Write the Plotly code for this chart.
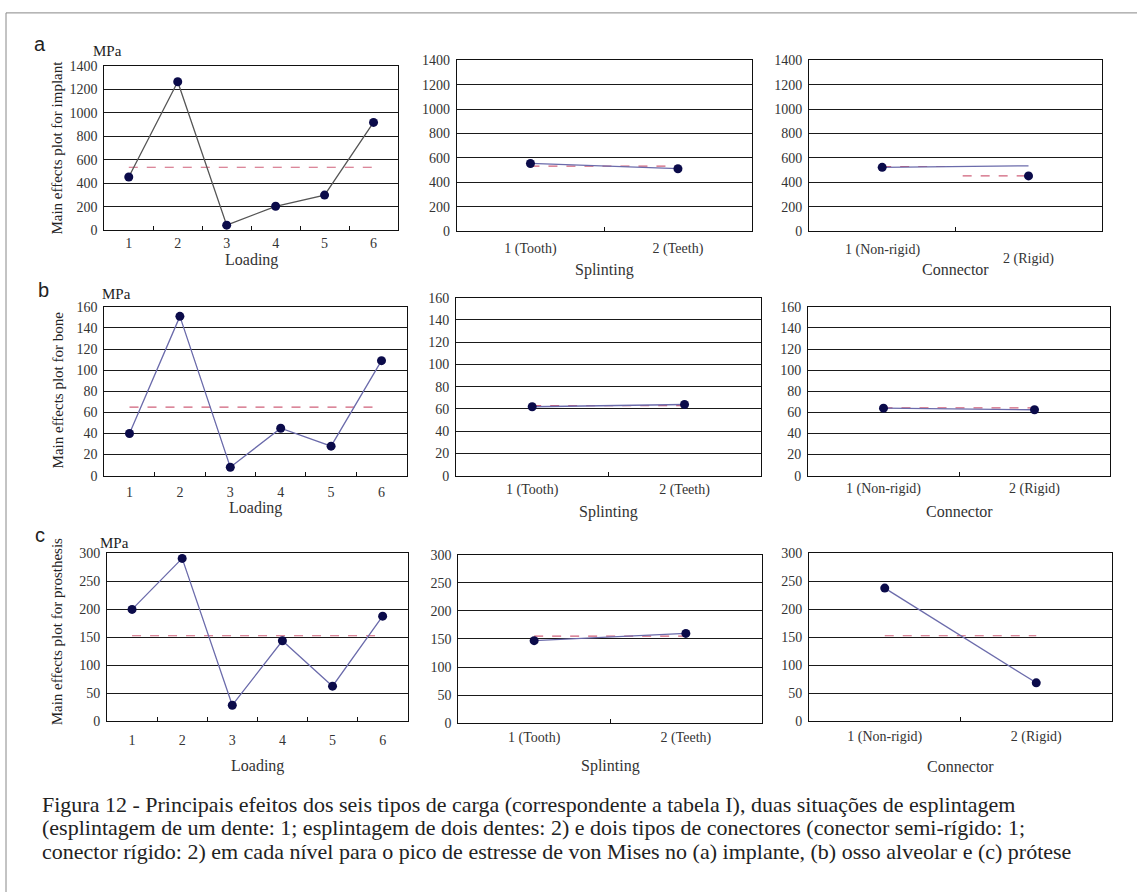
import plotly.graph_objects as go

# ---------------- data ----------------
loading_levels = [1, 2, 3, 4, 5, 6]
loading_labels = ["1", "2", "3", "4", "5", "6"]
two_levels = [1, 2]
splint_labels = ["1 (Tooth)", "2 (Teeth)"]
conn_labels = ["1 (Non-rigid)", "2 (Rigid)"]

implant_loading = [455, 1266, 45, 206, 301, 920]
implant_splint = [555, 512]
implant_conn = [523, 453]
implant_conn_line = [523, 536]
implant_mean_loading = 538
implant_mean_splint = 533
implant_mean_conn = [530, 453]   # dashed halves as drawn

bone_loading = [40, 151, 8, 45, 28, 109]
bone_splint = [62, 64]
bone_conn = [64, 62.5]
bone_mean_loading = 65
bone_mean_splint = 63
bone_mean_conn = 64.3

pros_loading = [200, 291, 29, 144, 63, 188]
pros_splint = [147, 160]
pros_conn = [238, 69]
pros_mean_loading = 153
pros_mean_splint = 155
pros_mean_conn = 153

y_ranges = {"a": (1400, 200), "b": (160, 20), "c": (300, 50)}
y_titles = {"a": "Main effects plot for implant",
            "b": "Main effects plot for bone",
            "c": "Main effects plot for prosthesis"}

caption_lines = [
    "Figura 12 - Principais efeitos dos seis tipos de carga (correspondente a tabela I), duas situações de esplintagem",
    "(esplintagem de um dente: 1; esplintagem de dois dentes: 2) e dois tipos de conectores (conector semi-rígido: 1;",
    "conector rígido: 2) em cada nível para o pico de estresse de von Mises no (a) implante, (b) osso alveolar e (c) prótese",
]

# ---------------- layout helpers ----------------
W, H = 1137, 892
def px(x): return x / W
def py(y): return 1 - y / H

SERIF = "Liberation Serif, Times New Roman, serif"
SANS = "Liberation Sans, Arial, sans-serif"
NAVY = "#0b0b4a"
LINE_BLUE = "#6b6bab"
LINE_GRAY = "#555555"
MEAN_PINK = "#d0607a"

# panel geometry in pixels: (x0, x1, ytop, ybottom)
geom = {
    ("a", 0): (104.3, 398, 60, 227.3),
    ("a", 1): (456.7, 751.7, 54.3, 228),
    ("a", 2): (809, 1101.7, 54.3, 228),
    ("b", 0): (104.3, 406.7, 305, 476.7),
    ("b", 1): (456, 760.7, 295.7, 476.7),
    ("b", 2): (808, 1110, 305, 476.7),
    ("c", 0): (107, 407.7, 555.7, 726.7),
    ("c", 1): (458.3, 761.7, 557.3, 728.3),
    ("c", 2): (809, 1112, 555.7, 726.7),
}
standoff = {
    ("a", 0): 0, ("a", 1): 4, ("a", 2): 4,
    ("b", 0): 4, ("b", 1): 1, ("b", 2): 0,
    ("c", 0): 6, ("c", 1): 1, ("c", 2): 2,
}
xtitle_y = {
    ("a", 0): 257, ("a", 1): 267, ("a", 2): 267,
    ("b", 0): 510, ("b", 1): 514, ("b", 2): 513,
    ("c", 0): 772, ("c", 1): 772, ("c", 2): 772,
}
xtitles = ["Loading", "Splinting", "Connector"]

rows = ["a", "b", "c"]
data = {
    "a": (implant_loading, implant_splint, implant_conn),
    "b": (bone_loading, bone_splint, bone_conn),
    "c": (pros_loading, pros_splint, pros_conn),
}
means = {
    "a": (implant_mean_loading, implant_mean_splint, implant_mean_conn),
    "b": (bone_mean_loading, bone_mean_splint, bone_mean_conn),
    "c": (pros_mean_loading, pros_mean_splint, pros_mean_conn),
}

fig = go.Figure()
layout = {}
annotations = []
idx = 0
for r in rows:
    ymax, dt = y_ranges[r]
    for c in range(3):
        idx += 1
        sx = "" if idx == 1 else str(idx)
        xa, ya = "x" + sx, "y" + sx
        x0, x1, yt, yb = geom[(r, c)]
        if c == 0:
            xv, xl, xr = loading_levels, loading_labels, [0.5, 6.5]
            minor_vals = [1.5, 2.5, 3.5, 4.5, 5.5]
        else:
            xv = two_levels
            xl = splint_labels if c == 1 else conn_labels
            xr = [0.5, 2.5]
            minor_vals = [1.5]
        hide_labels = (r == "a" and c == 2)
        layout["xaxis" + sx] = dict(
            domain=[px(x0), px(x1)], anchor=ya, range=xr,
            tickmode="array", tickvals=xv, ticktext=xl, ticks="",
            showticklabels=not hide_labels,
            ticklabelstandoff=standoff[(r, c)],
            tickfont=dict(family=SERIF, size=14, color="#333"),
            showgrid=False, zeroline=False,
            showline=True, linecolor="#111", linewidth=1, mirror=True,
            minor=dict(tickmode="array", tickvals=minor_vals, ticks="inside",
                       ticklen=4, tickcolor="#111", showgrid=False),
            fixedrange=True,
        )
        layout["yaxis" + sx] = dict(
            domain=[py(yb), py(yt)], anchor=xa, range=[0, ymax],
            tickmode="linear", tick0=0, dtick=dt, ticks="",
            ticklabelstandoff=3,
            tickfont=dict(family=SERIF, size=14, color="#333"),
            showgrid=True, gridcolor="#1a1a1a", gridwidth=1,
            zeroline=False,
            showline=True, linecolor="#111", linewidth=1, mirror=True,
            fixedrange=True,
        )
        vals = data[r][c]
        mval = means[r][c]
        # mean dashed line
        if r == "a" and c == 2:
            mx = [1, 1.5, None, 1.55, 2]
            my = [mval[0], mval[0], None, mval[1], mval[1]]
        else:
            mx = [xv[0], xv[-1]]
            my = [mval, mval]
        fig.add_trace(go.Scatter(x=mx, y=my, mode="lines", xaxis=xa, yaxis=ya,
                                 line=dict(color=MEAN_PINK, width=1.2, dash="dash"),
                                 showlegend=False, hoverinfo="skip"))
        lcol = LINE_GRAY if (r == "a" and c == 0) else LINE_BLUE
        line_y = implant_conn_line if (r == "a" and c == 2) else vals
        fig.add_trace(go.Scatter(x=xv, y=line_y, mode="lines", xaxis=xa, yaxis=ya,
                                 line=dict(color=lcol, width=1.3),
                                 showlegend=False, hoverinfo="skip"))
        fig.add_trace(go.Scatter(x=xv, y=vals, mode="markers", xaxis=xa, yaxis=ya,
                                 marker=dict(color=NAVY, size=9),
                                 showlegend=False))
        # x axis title
        annotations.append(dict(
            text=xtitles[c], xref="paper", yref="paper",
            x=px((x0 + x1) / 2), y=py(xtitle_y[(r, c)]),
            xanchor="center", yanchor="middle", showarrow=False,
            font=dict(family=SERIF, size=16, color="#333")))
        if hide_labels:
            for k, (lab, yy) in enumerate(zip(conn_labels, [246.7, 256.7])):
                annotations.append(dict(
                    text=lab, xref=xa, yref="paper", x=xv[k], y=py(yy),
                    xanchor="center", yanchor="middle", showarrow=False,
                    font=dict(family=SERIF, size=14, color="#333")))

# row letters, MPa, y titles
row_letters = {"a": (40, 38), "b": (43, 288), "c": (40, 537)}
mpa_pos = {"a": (107, 45), "b": (116, 292), "c": (114, 545)}
ytitle_pos = {"a": (57, 143), "b": (58, 390), "c": (57, 636)}
for r in rows:
    lx, ly = row_letters[r]
    annotations.append(dict(text=r, xref="paper", yref="paper", x=px(lx), y=py(ly),
                            xanchor="center", yanchor="middle", showarrow=False,
                            font=dict(family=SANS, size=20, color="#222")))
    mx_, my_ = mpa_pos[r]
    annotations.append(dict(text="MPa", xref="paper", yref="paper", x=px(mx_), y=py(my_),
                            xanchor="center", yanchor="middle", showarrow=False,
                            font=dict(family=SERIF, size=15, color="#222")))
    tx, ty = ytitle_pos[r]
    annotations.append(dict(text=y_titles[r], xref="paper", yref="paper", x=px(tx), y=py(ty),
                            xanchor="center", yanchor="middle", showarrow=False, textangle=-90,
                            font=dict(family=SERIF, size=15, color="#222")))

for k, line in enumerate(caption_lines):
    annotations.append(dict(text=line, xref="paper", yref="paper", x=px(40), y=py(811 + 24 * k),
                            xanchor="left", yanchor="middle", showarrow=False,
                            font=dict(family=SERIF, size=22, color="#222")))

layout["shapes"] = [dict(type="rect", xref="paper", yref="paper",
                         x0=px(6), x1=px(1160), y0=py(915), y1=py(6),
                         line=dict(color="#888", width=1))]

fig.update_layout(
    autosize=True, margin=dict(l=0, r=0, t=0, b=0, pad=0),
    paper_bgcolor="white", plot_bgcolor="white",
    showlegend=False, annotations=annotations, **layout,
)

fig.write_html(
    "out.html",
    config={"displayModeBar": False, "responsive": True},
    default_width="100vw", default_height="100vh",
    post_script=("document.documentElement.style.margin='0';"
                 "document.body.style.margin='0';document.body.style.overflow='hidden';"
                 "Plotly.Plots.resize(document.getElementById('{plot_id}'));"),
)
